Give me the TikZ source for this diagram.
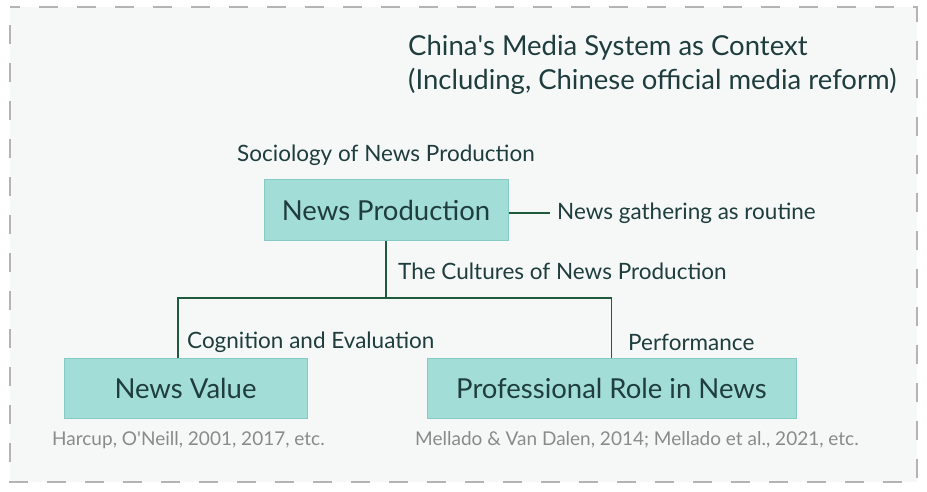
\documentclass[tikz,border=0pt]{standalone}
\usepackage{fontspec}
\setmainfont{Lato}
\definecolor{boxfill}{HTML}{A3DDD8}
\definecolor{boxline}{HTML}{86CBC3}
\definecolor{linkcol}{HTML}{1E5A3C}
\definecolor{inkcol}{HTML}{1F3D3D}
\definecolor{refcol}{HTML}{8A8A8A}
\definecolor{framecol}{HTML}{B4B4B4}
\definecolor{backcol}{HTML}{F6F8F8}

\begin{document}
\begin{tikzpicture}[x=1pt,y=-1pt,
    topic/.style={shape=rectangle,draw=boxline,fill=boxfill,line width=1pt,
      minimum height=60pt,inner sep=0pt,text=inkcol,font=\fontsize{27.5}{30}\selectfont},
    caption/.style={anchor=west,inner sep=0pt,text=inkcol,font=\fontsize{22.5}{26}\selectfont},
    cite/.style={anchor=west,inner sep=0pt,text=refcol,font=\fontsize{19}{22}\selectfont},
    link/.style={draw=linkcol,line width=1.4pt}]
    \useasboundingbox (0,0) rectangle (927,492);
    \draw[framecol,fill=backcol,line width=2pt,dash pattern=on 19pt off 19pt,dash phase=-18pt]
      (10,7) rectangle (917,482);
    % title
    \node[anchor=west,inner sep=0pt,text=inkcol,font=\fontsize{27.5}{34}\selectfont,align=left]
      (title) at (408,65) {China\textquotesingle s Media System as Context\\(Including, Chinese official media reform)};
    % boxes
    \node[topic,minimum width=244pt] (prod) at (386,210) {News Production};
    \node[topic,minimum width=243pt] (value) at (185.5,388) {News Value};
    \node[topic,minimum width=369pt] (role) at (611.5,388) {Professional Role in News};
    % labels
    \node[caption] (socio) at (237,155) {Sociology of News Production};
    \node[caption] (routine) at (557,213) {News gathering as routine};
    \node[caption] (cult) at (398,271) {The Cultures of News Production};
    \node[caption] (cogn) at (187,342) {Cognition and Evaluation};
    \node[caption] (perf) at (628,342) {Performance};
    \node[cite] (harc) at (52,440) {Harcup, O\textquotesingle Neill, 2001, 2017, etc.};
    \node[cite] (mell) at (415,440) {Mellado \& Van Dalen, 2014; Mellado et al., 2021, etc.};
    % connectors
    \coordinate (fork) at (prod.south |- 0,298);
    \path[link] (prod.east |- routine.west) -- ([xshift=-7pt]routine.west);
    \path[link] (prod.south) -- (fork);
    \path[link] (value.north -| 178,0) |- (fork);
    \path[link] (role.north) |- (fork);
\end{tikzpicture}
\end{document}
